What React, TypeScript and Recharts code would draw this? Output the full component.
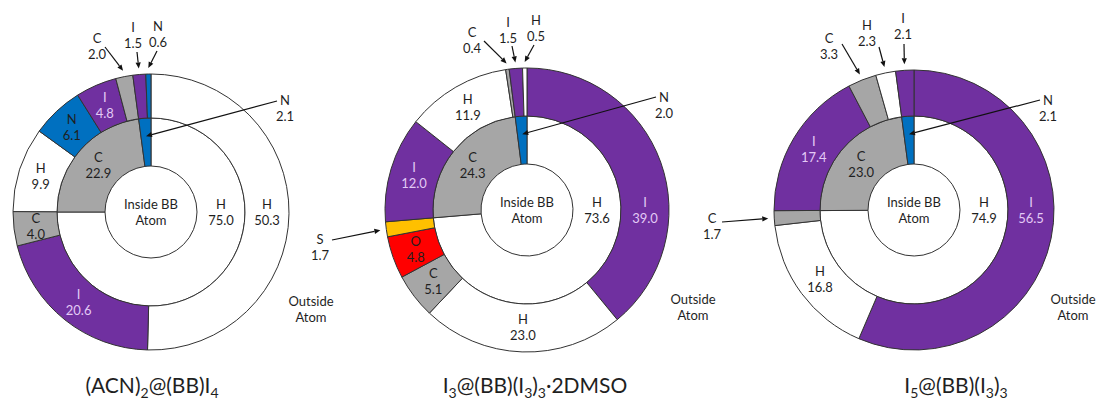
import { PieChart, Pie, Cell } from 'recharts';

const ATOM_COLORS: Record<string, string> = {
  H: '#FFFFFF',
  C: '#A6A6A6',
  N: '#0070C0',
  I: '#7030A0',
  O: '#FF0000',
  S: '#FFC000',
};

// (ACN)2@(BB)I4
const acnInsideAtoms = ['H', 'C', 'N'];
const acnInsideShare = [75.0, 22.9, 2.1];
const acnOutsideAtoms = ['H', 'I', 'C', 'H', 'N', 'I', 'C', 'I', 'N'];
const acnOutsideShare = [50.3, 20.6, 4.0, 9.9, 6.1, 4.8, 2.0, 1.5, 0.6];

// I3@(BB)(I3)3·2DMSO
const dmsoInsideAtoms = ['H', 'C', 'N'];
const dmsoInsideShare = [73.6, 24.3, 2.0];
const dmsoOutsideAtoms = ['I', 'H', 'C', 'O', 'S', 'I', 'H', 'C', 'I', 'H'];
const dmsoOutsideShare = [39.0, 23.0, 5.1, 4.8, 1.7, 12.0, 11.9, 0.4, 1.5, 0.5];

// I5@(BB)(I3)3
const i5InsideAtoms = ['H', 'C', 'N'];
const i5InsideShare = [74.9, 23.0, 2.1];
const i5OutsideAtoms = ['I', 'H', 'C', 'I', 'C', 'H', 'I'];
const i5OutsideShare = [56.5, 16.8, 1.7, 17.4, 3.3, 2.3, 2.1];

// title pieces: [text, isSubscript]
const acnTitle: [string, boolean][] = [['(ACN)', false], ['2', true], ['@(BB)I', false], ['4', true]];
const dmsoTitle: [string, boolean][] = [
  ['I', false], ['3', true], ['@(BB)(I', false], ['3', true], [')', false], ['3', true], ['·2DMSO', false],
];
const i5Title: [string, boolean][] = [['I', false], ['5', true], ['@(BB)(I', false], ['3', true], [')', false], ['3', true]];

const insideCaption = ['Inside BB', 'Atom'];
const outsideCaption = ['Outside', 'Atom'];

const FONT = 'Lato, "Open Sans", sans-serif';
const INK = '#1f1f1f';
const EDGE = '#333333';
const RAD = Math.PI / 180;

type Ring = 'inside' | 'outside';
// callout placement relative to pie centre: text (tx, ty) and leader start (sx, sy)
type Callout = { ring: Ring; index: number; tx: number; ty: number; sx: number; sy: number };

interface Panel {
  cx: number;
  cy: number;
  outer: number;
  insideAtoms: string[];
  insideShare: number[];
  outsideAtoms: string[];
  outsideShare: number[];
  title: [string, boolean][];
  titleX: number;
  outsideDx: number;
  callouts: Callout[];
}

const HOLE = 46;
const MID = 94;

const panels: Panel[] = [
  {
    cx: 151, cy: 212, outer: 138,
    insideAtoms: acnInsideAtoms, insideShare: acnInsideShare,
    outsideAtoms: acnOutsideAtoms, outsideShare: acnOutsideShare,
    title: acnTitle, titleX: 152, outsideDx: 160,
    callouts: [
      { ring: 'outside', index: 6, tx: -54, ty: -174, sx: -46, sy: -165 },
      { ring: 'outside', index: 7, tx: -18, ty: -185, sx: -14, sy: -160 },
      { ring: 'outside', index: 8, tx: 7, ty: -186, sx: 6, sy: -161 },
      { ring: 'inside', index: 2, tx: 134, ty: -112, sx: 126, sy: -111 },
    ],
  },
  {
    cx: 527, cy: 210, outer: 142,
    insideAtoms: dmsoInsideAtoms, insideShare: dmsoInsideShare,
    outsideAtoms: dmsoOutsideAtoms, outsideShare: dmsoOutsideShare,
    title: dmsoTitle, titleX: 535, outsideDx: 166,
    callouts: [
      { ring: 'outside', index: 4, tx: -207, ty: 29, sx: -195, sy: 30 },
      { ring: 'outside', index: 7, tx: -55, ty: -178, sx: -43, sy: -169 },
      { ring: 'outside', index: 8, tx: -19, ty: -188, sx: -15, sy: -164 },
      { ring: 'outside', index: 9, tx: 9, ty: -190, sx: 7, sy: -165 },
      { ring: 'inside', index: 2, tx: 137, ty: -113, sx: 129, sy: -113 },
    ],
  },
  {
    cx: 914, cy: 210, outer: 140,
    insideAtoms: i5InsideAtoms, insideShare: i5InsideShare,
    outsideAtoms: i5OutsideAtoms, outsideShare: i5OutsideShare,
    title: i5Title, titleX: 956, outsideDx: 159,
    callouts: [
      { ring: 'outside', index: 2, tx: -202, ty: 8, sx: -192, sy: 12 },
      { ring: 'outside', index: 4, tx: -85, ty: -172, sx: -72, sy: -166 },
      { ring: 'outside', index: 5, tx: -47, ty: -185, sx: -35, sy: -163 },
      { ring: 'outside', index: 6, tx: -11, ty: -192, sx: -10, sy: -166 },
      { ring: 'inside', index: 2, tx: 134, ty: -110, sx: 126, sy: -110 },
    ],
  },
];

const toRows = (atoms: string[], share: number[]) =>
  atoms.map((atom, i) => ({ name: atom, value: share[i] }));

// slices that run through 3 o'clock get their label parked there
const crossesThreeOClock = (share: number[], index: number) => {
  const total = share.reduce((a, b) => a + b, 0);
  const start = share.slice(0, index).reduce((a, b) => a + b, 0) / total;
  const end = start + share[index] / total;
  return start <= 0.25 && end >= 0.25;
};

const polar = (cx: number, cy: number, r: number, angle: number) => ({
  x: cx + r * Math.cos(-angle * RAD),
  y: cy + r * Math.sin(-angle * RAD),
});

function TwoLine({ x, y, top, bottom, fill }: { x: number; y: number; top: string; bottom: string; fill: string }) {
  return (
    <text x={x} textAnchor="middle" fontFamily={FONT} fontSize={13} fill={fill}>
      <tspan x={x} y={y - 8 + 4.5}>{top}</tspan>
      <tspan x={x} y={y + 8 + 4.5}>{bottom}</tspan>
    </text>
  );
}

function makeLabel(panel: Panel, ring: Ring) {
  const atoms = ring === 'inside' ? panel.insideAtoms : panel.outsideAtoms;
  const share = ring === 'inside' ? panel.insideShare : panel.outsideShare;
  return (props: any) => {
    const { cx, cy, midAngle, innerRadius, outerRadius, index } = props;
    const atom = atoms[index];
    const value = share[index].toFixed(1);
    const callout = panel.callouts.find((c) => c.ring === ring && c.index === index);

    if (callout) {
      const tipR = ring === 'outside' ? outerRadius + 6 : (innerRadius + outerRadius) / 2 + 6;
      const tip = polar(cx, cy, tipR, midAngle);
      const sx = cx + callout.sx;
      const sy = cy + callout.sy;
      const len = Math.hypot(tip.x - sx, tip.y - sy);
      const ux = (tip.x - sx) / len;
      const uy = (tip.y - sy) / len;
      const bx = tip.x - ux * 6;
      const by = tip.y - uy * 6;
      const head = `${tip.x},${tip.y} ${bx - uy * 2.6},${by + ux * 2.6} ${bx + uy * 2.6},${by - ux * 2.6}`;
      return (
        <g>
          <line x1={sx} y1={sy} x2={bx} y2={by} stroke="#111" strokeWidth={1.2} />
          <polygon points={head} fill="#111" />
          <TwoLine x={cx + callout.tx} y={cy + callout.ty + 8} top={atom} bottom={value} fill={INK} />
        </g>
      );
    }

    const angle = crossesThreeOClock(share, index) ? 0 : midAngle;
    const p = polar(cx, cy, (innerRadius + outerRadius) / 2, angle);
    const fill = atom === 'I' ? '#E3CAF6' : INK;
    return <TwoLine x={p.x} y={p.y} top={atom} bottom={value} fill={fill} />;
  };
}

function Title({ x, parts }: { x: number; parts: [string, boolean][] }) {
  let shifted = false;
  return (
    <text x={x} y={393} textAnchor="middle" fontFamily={FONT} fontSize={21} fill={INK}>
      {parts.map(([t, sub], i) => {
        const dy = sub && !shifted ? 5 : !sub && shifted ? -5 : 0;
        shifted = sub;
        return (
          <tspan key={i} dy={dy} fontSize={sub ? 14 : 21}>
            {t}
          </tspan>
        );
      })}
    </text>
  );
}

export default function App() {
  return (
    <div style={{ width: 1099, height: 401, background: '#fff' }}>
      <style>{'body{margin:0;background:#fff}'}</style>
      <PieChart width={1099} height={401} margin={{ top: 0, right: 0, bottom: 0, left: 0 }}>
        {panels.flatMap((panel, pi) => [
          <Pie
            key={`in-${pi}`}
            data={toRows(panel.insideAtoms, panel.insideShare)}
            dataKey="value"
            nameKey="name"
            cx={panel.cx}
            cy={panel.cy}
            innerRadius={HOLE}
            outerRadius={MID}
            startAngle={90}
            endAngle={-270}
            stroke={EDGE}
            strokeWidth={1}
            label={makeLabel(panel, 'inside')}
            labelLine={false}
            isAnimationActive={false}
          >
            {panel.insideAtoms.map((a, i) => (
              <Cell key={i} fill={ATOM_COLORS[a]} />
            ))}
          </Pie>,
          <Pie
            key={`out-${pi}`}
            data={toRows(panel.outsideAtoms, panel.outsideShare)}
            dataKey="value"
            nameKey="name"
            cx={panel.cx}
            cy={panel.cy}
            innerRadius={MID}
            outerRadius={panel.outer}
            startAngle={90}
            endAngle={-270}
            stroke={EDGE}
            strokeWidth={1}
            label={makeLabel(panel, 'outside')}
            labelLine={false}
            isAnimationActive={false}
          >
            {panel.outsideAtoms.map((a, i) => (
              <Cell key={i} fill={ATOM_COLORS[a]} />
            ))}
          </Pie>,
        ])}
        {panels.map((panel, pi) => (
          <g key={`cap-${pi}`}>
            <TwoLine x={panel.cx} y={panel.cy} top={insideCaption[0]} bottom={insideCaption[1]} fill={INK} />
            <TwoLine
              x={panel.cx + panel.outsideDx}
              y={panel.cy + 97}
              top={outsideCaption[0]}
              bottom={outsideCaption[1]}
              fill={INK}
            />
            <Title x={panel.titleX} parts={panel.title} />
          </g>
        ))}
      </PieChart>
    </div>
  );
}
